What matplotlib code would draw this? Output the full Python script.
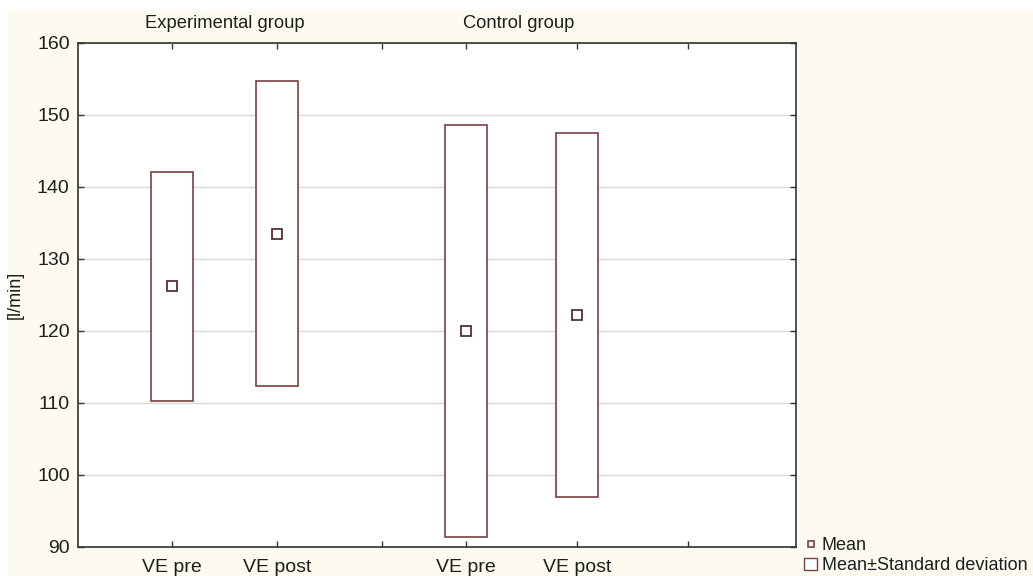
import matplotlib
matplotlib.use("Agg")
import matplotlib.pyplot as plt
from matplotlib.patches import Rectangle, Patch
from matplotlib.lines import Line2D

# ---- data ----
groups = ["Experimental group", "Control group"]
categories = ["VE pre", "VE post", "VE pre", "VE post"]
means = [126.2, 133.5, 120.0, 122.2]
sds = [15.9, 21.2, 28.6, 25.3]
y_ticks = [90, 100, 110, 120, 130, 140, 150, 160]
y_label = "[l/min]"

# ---- layout ----
W, H = 1033, 576
x_pos = [94, 199, 388, 499]          # category positions (axis units = px)
extra_ticks = [304, 610]             # unlabeled group boundary ticks
group_centers = [147, 441]
box_w = 42
edge = "#7a3f3f"
cream = "#fdfaf0"
txt = "#1e1e1e"

plt.rcParams["font.family"] = ["Liberation Sans", "DejaVu Sans"]

fig = plt.figure(figsize=(W / 100, H / 100), dpi=100)
fig.patch.set_facecolor("white")
fig.patches.append(Rectangle((7 / W, 0), 1 - 7 / W, 1 - 10 / H, transform=fig.transFigure,
                             facecolor=cream, edgecolor="none", zorder=-10))

ax = fig.add_axes([78 / W, (H - 547) / H, (796 - 78) / W, (547 - 43) / H])
ax.set_facecolor("white")
ax.set_xlim(0, 718)
ax.set_ylim(90, 160)

ax.set_yticks(y_ticks)
ax.yaxis.grid(True, color="#d9d9d9", linewidth=1)
ax.set_axisbelow(True)

bottoms = [m - s for m, s in zip(means, sds)]
heights = [2 * s for s in sds]
ax.bar(x_pos, heights, bottom=bottoms, width=box_w, facecolor="white",
       edgecolor=edge, linewidth=1.2, zorder=3)
ax.plot(x_pos, means, linestyle="none", marker="s", markersize=7,
        markerfacecolor="white", markeredgecolor="#4a2020", markeredgewidth=1.2, zorder=4)

all_ticks = sorted(x_pos + extra_ticks)
ax.set_xticks(all_ticks)
lab = {p: c for p, c in zip(x_pos, categories)}
ax.set_xticklabels([lab.get(t, "") for t in all_ticks])
ax.tick_params(axis="both", direction="in", length=4, width=1, color="#333333",
               labelsize=14, labelcolor=txt, top=True, right=True, pad=6)
ax.tick_params(axis="x", pad=9)
for s in ax.spines.values():
    s.set_color("#333333")
    s.set_linewidth(1.2)

for g, c in zip(groups, group_centers):
    ax.text(c, 1.03, g, transform=ax.get_xaxis_transform(), ha="center", va="baseline",
            fontsize=13.2, color=txt)

ax.set_ylabel(y_label, fontsize=13, color=txt)
ax.yaxis.set_label_coords(-54 / 718, 0.5)

handles = [Line2D([], [], linestyle="none", marker="s", markersize=5,
                  markerfacecolor="white", markeredgecolor=edge, markeredgewidth=1.2),
           Patch(facecolor="white", edgecolor=edge, linewidth=1.0)]
fig.legend(handles, ["Mean", "Mean\u00b1Standard deviation"], loc="lower left",
           bbox_to_anchor=(802 / W, 0 / H), frameon=False, fontsize=13,
           handlelength=0.75, handletextpad=0.25, labelspacing=0.15, borderpad=0.1,
           borderaxespad=0.0, labelcolor=txt)

fig.savefig("out.png", dpi=100, facecolor=fig.get_facecolor())
